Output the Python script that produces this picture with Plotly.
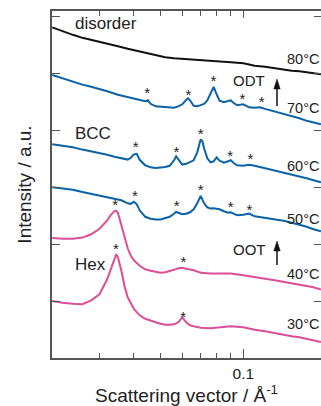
import plotly.graph_objects as go
import math

# ---------------- data ----------------
q80 = [0.0202, 0.022, 0.024, 0.026, 0.028, 0.030, 0.032, 0.035, 0.038, 0.040, 0.044, 0.048, 0.052,
       0.056, 0.060, 0.064, 0.070, 0.076, 0.085, 0.090, 0.100, 0.110, 0.120, 0.130, 0.140, 0.150,
       0.160, 0.170, 0.180, 0.1915]
i80 = [5.817, 5.747, 5.685, 5.632, 5.597, 5.562, 5.527, 5.483, 5.439, 5.413, 5.369, 5.325, 5.289,
       5.272, 5.263, 5.254, 5.237, 5.228, 5.219, 5.201, 5.184, 5.140, 5.122, 5.096, 5.070, 5.052,
       5.043, 5.025, 5.008, 4.990]

q70 = [0.0202, 0.022, 0.024, 0.026, 0.028, 0.030, 0.032, 0.035, 0.038, 0.040, 0.042, 0.044, 0.045,
       0.046, 0.048, 0.050, 0.052, 0.054, 0.056, 0.058, 0.060, 0.062, 0.063, 0.064, 0.066, 0.068,
       0.070, 0.072, 0.074, 0.076, 0.078, 0.080, 0.082, 0.085, 0.088, 0.090, 0.092, 0.095, 0.100,
       0.105, 0.110, 0.115, 0.120, 0.130, 0.140, 0.150, 0.160, 0.170, 0.180, 0.1915]
i70 = [4.978, 4.920, 4.867, 4.809, 4.770, 4.735, 4.691, 4.630, 4.586, 4.559, 4.533, 4.515, 4.533,
       4.471, 4.427, 4.419, 4.422, 4.410, 4.401, 4.427, 4.463, 4.542, 4.568, 4.533, 4.436, 4.427,
       4.445, 4.471, 4.533, 4.656, 4.770, 4.639, 4.524, 4.498, 4.515, 4.533, 4.489, 4.445, 4.463,
       4.410, 4.401, 4.410, 4.383, 4.339, 4.295, 4.251, 4.216, 4.172, 4.137, 4.111]

q60 = [0.0202, 0.022, 0.024, 0.026, 0.028, 0.030, 0.032, 0.034, 0.036, 0.038, 0.039, 0.040, 0.041,
       0.042, 0.044, 0.046, 0.048, 0.050, 0.052, 0.054, 0.056, 0.057, 0.058, 0.060, 0.062, 0.064,
       0.066, 0.068, 0.070, 0.071, 0.072, 0.074, 0.076, 0.078, 0.080, 0.082, 0.085, 0.088, 0.090,
       0.092, 0.095, 0.100, 0.105, 0.110, 0.120, 0.130, 0.140, 0.150, 0.160, 0.170, 0.180, 0.1915]
i60 = [3.759, 3.736, 3.706, 3.666, 3.636, 3.610, 3.574, 3.539, 3.513, 3.490, 3.522, 3.583, 3.592,
       3.486, 3.390, 3.354, 3.342, 3.346, 3.360, 3.381, 3.478, 3.548, 3.495, 3.402, 3.416, 3.442,
       3.478, 3.618, 3.847, 3.812, 3.689, 3.513, 3.442, 3.460, 3.530, 3.469, 3.437, 3.460, 3.478,
       3.434, 3.390, 3.381, 3.398, 3.381, 3.337, 3.302, 3.267, 3.223, 3.187, 3.161, 3.126, 3.091]

q50 = list(q60)
i50 = [3.003, 2.985, 2.959, 2.920, 2.888, 2.862, 2.827, 2.800, 2.774, 2.721, 2.712, 2.748, 2.704,
       2.598, 2.484, 2.449, 2.435, 2.435, 2.457, 2.484, 2.537, 2.572, 2.554, 2.528, 2.537, 2.563,
       2.616, 2.721, 2.853, 2.800, 2.721, 2.651, 2.628, 2.633, 2.625, 2.616, 2.581, 2.554, 2.563,
       2.537, 2.510, 2.519, 2.540, 2.493, 2.466, 2.440, 2.413, 2.378, 2.343, 2.308, 2.264, 2.229]

q40 = [0.0202, 0.022, 0.024, 0.026, 0.028, 0.030, 0.032, 0.033, 0.034, 0.0345, 0.035, 0.036, 0.037,
       0.038, 0.039, 0.040, 0.042, 0.044, 0.046, 0.048, 0.050, 0.052, 0.054, 0.056, 0.058, 0.060,
       0.062, 0.064, 0.066, 0.070, 0.076, 0.085, 0.090, 0.100, 0.110, 0.120, 0.130, 0.140, 0.150,
       0.160, 0.170, 0.180, 0.1915]
i40 = [2.111, 2.097, 2.097, 2.118, 2.176, 2.273, 2.422, 2.519, 2.584, 2.589, 2.554, 2.334, 2.123,
       1.930, 1.798, 1.719, 1.622, 1.560, 1.534, 1.516, 1.499, 1.508, 1.525, 1.551, 1.578, 1.587,
       1.569, 1.560, 1.543, 1.499, 1.485, 1.485, 1.485, 1.455, 1.428, 1.393, 1.367, 1.340, 1.314,
       1.296, 1.270, 1.244, 1.203]

q30 = [0.0202, 0.022, 0.024, 0.026, 0.028, 0.030, 0.032, 0.033, 0.034, 0.0345, 0.035, 0.036, 0.037,
       0.038, 0.040, 0.042, 0.044, 0.046, 0.048, 0.050, 0.052, 0.054, 0.056, 0.058, 0.060, 0.062,
       0.064, 0.066, 0.070, 0.076, 0.085, 0.090, 0.100, 0.110, 0.120, 0.130, 0.140, 0.150, 0.160,
       0.170, 0.180, 0.1915]
i30 = [1.003, 0.971, 0.953, 0.945, 1.015, 1.120, 1.384, 1.578, 1.754, 1.824, 1.771, 1.543, 1.261,
       1.068, 0.865, 0.751, 0.690, 0.654, 0.628, 0.602, 0.584, 0.584, 0.593, 0.628, 0.716, 0.628,
       0.575, 0.558, 0.531, 0.522, 0.549, 0.558, 0.540, 0.496, 0.470, 0.435, 0.408, 0.382, 0.364,
       0.338, 0.311, 0.281]

# peak markers (*)
star_q = [0.0447, 0.0632, 0.0779, 0.0993, 0.1167,
          0.0406, 0.0571, 0.0700, 0.0895, 0.1062,
          0.0404, 0.0573, 0.0700, 0.0900, 0.1053,
          0.0342, 0.0606,
          0.0344, 0.0605]
star_y = [4.633, 4.601, 4.852, 4.527, 4.483,
          3.683, 3.603, 3.920, 3.538, 3.486,
          2.824, 2.648, 2.926, 2.627, 2.583,
          2.677, 1.663,
          1.903, 0.701]

temp_labels = ["80°C", "70°C", "60°C", "50°C", "40°C", "30°C"]
phase_labels = ["disorder", "BCC", "Hex"]
transition_labels = ["ODT", "OOT"]
x_major = [0.1]
x_major_text = ["0.1"]
x_minor = [0.02, 0.03, 0.04, 0.05, 0.06, 0.07, 0.08, 0.09, 0.2]
y_ticks = [1, 2, 3, 4, 5, 6]

# ---------------- styling ----------------
FONT = "Liberation Sans, Arial, Helvetica, sans-serif"
TXT = "#222222"
BLACK = "#111111"
BLUE = "#0b62a6"
PINK = "#dc4f98"
AX = "#555555"
XR = [math.log10(0.02016), math.log10(0.19165)]
YR = [0, 6.104]

fig = go.Figure()
series = [(q80, i80, BLACK), (q70, i70, BLUE), (q60, i60, BLUE), (q50, i50, BLUE),
          (q40, i40, PINK), (q30, i30, PINK)]
for qq, ii, col in series:
    fig.add_trace(go.Scatter(x=qq, y=ii, mode="lines", line=dict(color=col, width=2),
                             showlegend=False, hoverinfo="skip"))

fig.add_trace(go.Scatter(x=star_q, y=star_y, mode="text", text=["*"] * len(star_q),
                         textposition="middle center",
                         textfont=dict(family=FONT, size=15, color=TXT),
                         showlegend=False, hoverinfo="skip"))

tick_common = dict(ticks="inside", tickcolor=AX, tickwidth=1.2)

fig.update_layout(
    width=321, height=406, autosize=False,
    margin=dict(l=52, r=0, t=11, b=48),
    paper_bgcolor="white", plot_bgcolor="white",
    font=dict(family=FONT, color=TXT),
    xaxis=dict(type="log", range=XR, showgrid=False, zeroline=False,
               showline=True, linecolor=AX, linewidth=1.8, mirror=False,
               tickmode="array", tickvals=x_major, ticktext=x_major_text, ticklen=9,
               tickfont=dict(size=15.5, color=TXT),
               minor=dict(tickmode="array", tickvals=x_minor, ticks="inside", ticklen=5,
                          tickcolor=AX, tickwidth=1.2),
               title=dict(text="Scattering vector / Å<sup>-1</sup>",
                          font=dict(size=19, color=TXT), standoff=8),
               **tick_common),
    xaxis2=dict(type="log", range=XR, overlaying="x", side="top", anchor="y",
                showgrid=False, zeroline=False, showline=True, linecolor=AX, linewidth=1.5,
                tickmode="array", tickvals=x_major, ticklen=7, showticklabels=False,
                minor=dict(tickmode="array", tickvals=x_minor, ticks="inside", ticklen=5,
                           tickcolor=AX, tickwidth=1.2),
                **tick_common),
    yaxis=dict(range=YR, showgrid=False, zeroline=False, showline=True, linecolor=AX,
               linewidth=1.8, mirror=False, tickmode="array", tickvals=y_ticks, ticklen=8,
               showticklabels=False,
               title=dict(text="Intensity / a.u.", font=dict(size=19, color=TXT),
                          standoff=13),
               **tick_common),
    yaxis2=dict(range=YR, overlaying="y", side="right", anchor="x", showgrid=False,
                zeroline=False, showline=False, tickmode="array", tickvals=y_ticks, ticklen=7,
                showticklabels=False, **tick_common),
)

# invisible trace so the secondary axes are drawn
fig.add_trace(go.Scatter(x=[0.05], y=[3], xaxis="x2", yaxis="y2", mode="markers",
                         marker=dict(opacity=0), showlegend=False, hoverinfo="skip"))


def px_x(px):
    return (px - 52) / 269.0


def px_y(py):
    return (358 - py) / 347.0


# phase labels
for txt, py in zip(phase_labels, [23, 133.3, 264.5]):
    fig.add_annotation(text=txt, xref="paper", yref="paper", x=px_x(73), y=px_y(py),
                       xanchor="left", yanchor="middle", showarrow=False,
                       font=dict(size=17, color=TXT))

# temperature labels
for txt, py in zip(temp_labels, [58.7, 108, 165.5, 219, 273.7, 323.8]):
    fig.add_annotation(text=txt, xref="paper", yref="paper", x=1.0, y=px_y(py),
                       xanchor="right", yanchor="middle", showarrow=False,
                       font=dict(size=14.5, color=TXT))

# transitions
for txt, py in zip(transition_labels, [80.5, 249.5]):
    fig.add_annotation(text=txt, xref="paper", yref="paper", x=px_x(249), y=px_y(py),
                       xanchor="center", yanchor="middle", showarrow=False,
                       borderpad=0, font=dict(size=15, color=TXT))

# arrows (shaft + filled head) as shapes
for head, tail in [(79, 106), (241, 265)]:
    xc = px_x(277)
    fig.add_shape(type="line", xref="paper", yref="paper", x0=xc, x1=xc,
                  y0=px_y(tail), y1=px_y(head + 6), line=dict(color=BLACK, width=1.5))
    fig.add_shape(type="path", xref="paper", yref="paper",
                  path=f"M {px_x(273.8)},{px_y(head + 10)} L {xc},{px_y(head)} "
                       f"L {px_x(280.2)},{px_y(head + 10)} Z",
                  fillcolor=BLACK, line=dict(color=BLACK, width=0.5))

fig.write_html("out.html", config={"displayModeBar": False},
               post_script="document.body.style.margin='0';")
